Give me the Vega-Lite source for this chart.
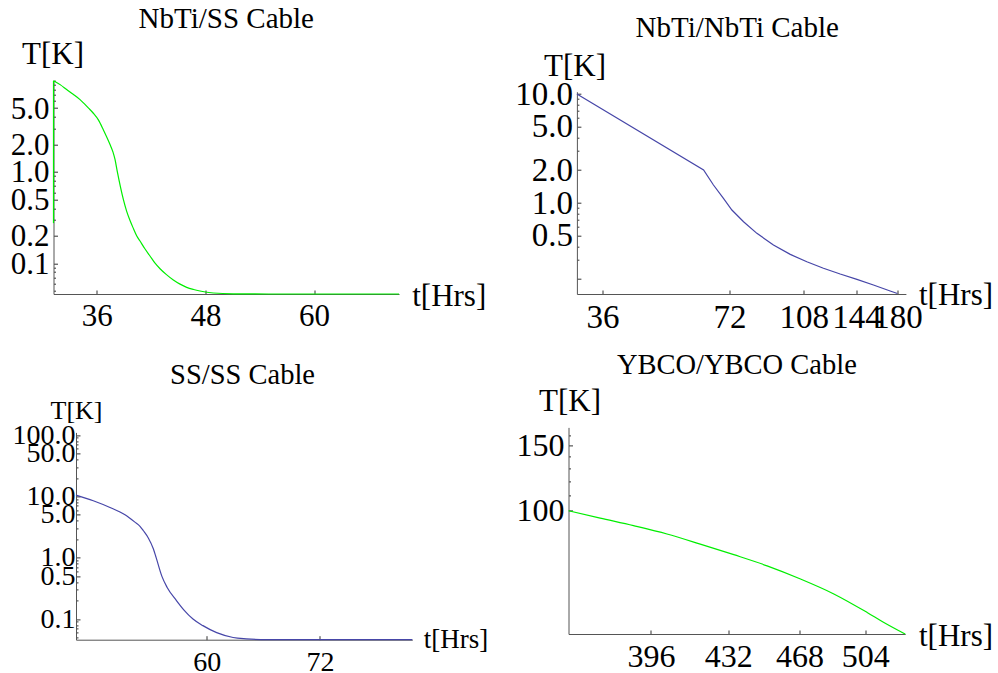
{
  "$schema": "https://vega.github.io/schema/vega-lite/v6.json",
  "autosize": {"type": "none"},
  "padding": {"left": 53.5, "top": 80.7, "right": 944.5, "bottom": 592.3},
  "background": "white",
  "columns": 2,
  "bounds": "flush",
  "spacing": {"row": 132.7, "column": 156},
  "config": {
    "view": {"stroke": null},
    "axis": {
      "titleFontWeight": "normal",
      "domainColor": "#555555", "tickColor": "#333333", "labelColor": "#000000", "titleColor": "#000000",
      "grid": false, "labelOverlap": false, "labelBound": false, "labelFlush": false, "titlePadding": 0,
      "domainWidth": 1, "tickWidth": 1
    },
    "title": {"font": "Liberation Serif, Times New Roman, serif", "fontWeight": "normal", "color": "#000000", "anchor": "middle", "frame": "group", "baseline": "alphabetic"}
  },
  "datasets": {
    "nbti_ss": [
      {"i": 0, "part": "drop", "hrs": 31.23, "temp": 0.275},
      {"i": 1, "part": "drop", "hrs": 31.23, "temp": 10.0},
      {"i": 1, "part": "curve", "hrs": 31.23, "temp": 10.0},
      {"i": 2, "part": "curve", "hrs": 32.0, "temp": 9.0},
      {"i": 3, "part": "curve", "hrs": 32.68, "temp": 8.0},
      {"i": 4, "part": "curve", "hrs": 33.4, "temp": 7.1},
      {"i": 5, "part": "curve", "hrs": 34.16, "temp": 6.2},
      {"i": 6, "part": "curve", "hrs": 35.1, "temp": 5.0},
      {"i": 7, "part": "curve", "hrs": 35.63, "temp": 4.4},
      {"i": 8, "part": "curve", "hrs": 36.2, "temp": 3.7},
      {"i": 9, "part": "curve", "hrs": 36.73, "temp": 2.9},
      {"i": 10, "part": "curve", "hrs": 37.47, "temp": 2.0},
      {"i": 11, "part": "curve", "hrs": 37.8, "temp": 1.65},
      {"i": 12, "part": "curve", "hrs": 38.02, "temp": 1.37},
      {"i": 13, "part": "curve", "hrs": 38.28, "temp": 1.0},
      {"i": 14, "part": "curve", "hrs": 38.94, "temp": 0.5},
      {"i": 15, "part": "curve", "hrs": 39.31, "temp": 0.37},
      {"i": 16, "part": "curve", "hrs": 39.7, "temp": 0.29},
      {"i": 17, "part": "curve", "hrs": 40.05, "temp": 0.24},
      {"i": 18, "part": "curve", "hrs": 40.41, "temp": 0.2},
      {"i": 19, "part": "curve", "hrs": 40.78, "temp": 0.175},
      {"i": 20, "part": "curve", "hrs": 41.3, "temp": 0.145},
      {"i": 21, "part": "curve", "hrs": 41.88, "temp": 0.12},
      {"i": 22, "part": "curve", "hrs": 42.44, "temp": 0.1},
      {"i": 23, "part": "curve", "hrs": 42.99, "temp": 0.087},
      {"i": 24, "part": "curve", "hrs": 43.7, "temp": 0.075},
      {"i": 25, "part": "curve", "hrs": 44.46, "temp": 0.0655},
      {"i": 26, "part": "curve", "hrs": 45.2, "temp": 0.059},
      {"i": 27, "part": "curve", "hrs": 45.93, "temp": 0.0544},
      {"i": 28, "part": "curve", "hrs": 46.7, "temp": 0.0515},
      {"i": 29, "part": "curve", "hrs": 47.4, "temp": 0.0496},
      {"i": 30, "part": "curve", "hrs": 48.88, "temp": 0.0472},
      {"i": 31, "part": "curve", "hrs": 51.08, "temp": 0.0462},
      {"i": 32, "part": "curve", "hrs": 55.0, "temp": 0.046},
      {"i": 33, "part": "curve", "hrs": 69.37, "temp": 0.046}
    ],
    "nbti_nbti": [
      {"i": 0, "hrs": 31.31, "temp": 10.0},
      {"i": 1, "hrs": 62.5, "temp": 2.01},
      {"i": 2, "hrs": 65.96, "temp": 1.463},
      {"i": 3, "hrs": 69.66, "temp": 1.104},
      {"i": 4, "hrs": 72.94, "temp": 0.863},
      {"i": 5, "hrs": 77.73, "temp": 0.674},
      {"i": 6, "hrs": 83.6, "temp": 0.527},
      {"i": 7, "hrs": 91.5, "temp": 0.412},
      {"i": 8, "hrs": 100.3, "temp": 0.338},
      {"i": 9, "hrs": 109.8, "temp": 0.289},
      {"i": 10, "hrs": 120.2, "temp": 0.252},
      {"i": 11, "hrs": 131.7, "temp": 0.223},
      {"i": 12, "hrs": 144.3, "temp": 0.1995},
      {"i": 13, "hrs": 157.9, "temp": 0.177},
      {"i": 14, "hrs": 173.0, "temp": 0.156},
      {"i": 15, "hrs": 180.0, "temp": 0.148}
    ],
    "ss_ss": [
      {"i": 0, "hrs": 46.16, "temp": 10.5},
      {"i": 1, "hrs": 47.99, "temp": 8.5},
      {"i": 2, "hrs": 49.76, "temp": 6.6},
      {"i": 3, "hrs": 51.35, "temp": 5.0},
      {"i": 4, "hrs": 52.4, "temp": 3.8},
      {"i": 5, "hrs": 52.94, "temp": 3.25},
      {"i": 6, "hrs": 53.3, "temp": 2.75},
      {"i": 7, "hrs": 53.82, "temp": 2.1},
      {"i": 8, "hrs": 54.35, "temp": 1.4},
      {"i": 9, "hrs": 54.65, "temp": 1.0},
      {"i": 10, "hrs": 55.25, "temp": 0.5},
      {"i": 11, "hrs": 55.8, "temp": 0.33},
      {"i": 12, "hrs": 56.8, "temp": 0.2},
      {"i": 13, "hrs": 57.6, "temp": 0.14},
      {"i": 14, "hrs": 58.55, "temp": 0.1},
      {"i": 15, "hrs": 59.6, "temp": 0.078},
      {"i": 16, "hrs": 61.06, "temp": 0.06},
      {"i": 17, "hrs": 62.8, "temp": 0.05},
      {"i": 18, "hrs": 64.2, "temp": 0.0475},
      {"i": 19, "hrs": 66.4, "temp": 0.046},
      {"i": 20, "hrs": 81.78, "temp": 0.046}
    ],
    "ybco_ybco": [
      {"i": 0, "hrs": 360.9, "temp": 100.0},
      {"i": 1, "hrs": 374.0, "temp": 95.5},
      {"i": 2, "hrs": 388.3, "temp": 91.1},
      {"i": 3, "hrs": 403.2, "temp": 86.5},
      {"i": 4, "hrs": 418.6, "temp": 81.2},
      {"i": 5, "hrs": 434.7, "temp": 76.0},
      {"i": 6, "hrs": 451.3, "temp": 70.9},
      {"i": 7, "hrs": 468.6, "temp": 65.3},
      {"i": 8, "hrs": 486.5, "temp": 59.5},
      {"i": 9, "hrs": 505.1, "temp": 53.0},
      {"i": 10, "hrs": 514.7, "temp": 49.8},
      {"i": 11, "hrs": 527.2, "temp": 46.33}
    ]
  },
  "concat": [
    {
      "width": 345.5, "height": 213.3,
      "title": {"text": "NbTi/SS Cable", "fontSize": 29, "offset": 4},
      "data": {"name": "nbti_ss"},
      "mark": {"type": "line", "color": "#00ee00", "strokeWidth": 1.2, "interpolate": "monotone"},
      "encoding": {
        "detail": {"field": "part", "type": "nominal"},
        "order": {"field": "i", "type": "quantitative"},
        "x": {"field": "hrs", "type": "quantitative",
          "scale": {"domain": [31.23, 69.37], "nice": false, "zero": false},
          "axis": {"values": [36, 48, 60], "format": "d", "tickSize": -4, "labelPadding": 11, "labelFontSize": 31,
            "labelFont": "Liberation Serif, Times New Roman, serif", "titleFont": "Liberation Serif, Times New Roman, serif",
            "title": "t[Hrs]", "titleFontSize": 31, "titleAlign": "left", "titleBaseline": "alphabetic", "titleX": 358.2, "titleY": 11}},
        "y": {"field": "temp", "type": "quantitative",
          "scale": {"type": "log", "domain": [0.046, 10], "nice": false},
          "axis": {"values": [0.05, 0.06, 0.07, 0.08, 0.09, 0.1, 0.2, 0.3, 0.4, 0.5, 0.6, 0.7, 0.8, 0.9, 1, 2, 3, 4, 5, 6, 7, 8, 9, 10],
            "format": ".1f",
            "labelExpr": "indexof([0.1,0.2,0.5,1,2,5], datum.value) >= 0 ? datum.label : ''",
            "tickSize": {"condition": {"test": "indexof([0.1,0.2,0.5,1,2,5], datum.value) >= 0", "value": -4}, "value": -2},
            "labelPadding": 8.5, "labelFontSize": 31, "labelOffset": 1,
            "labelFont": "Liberation Serif, Times New Roman, serif", "titleFont": "Liberation Serif, Times New Roman, serif",
            "title": "T[K]", "titleFontSize": 31, "titleAngle": 0, "titleAlign": "left", "titleBaseline": "alphabetic", "titleX": -32, "titleY": -17.4}}
      }
    },
    {
      "width": 337.4, "height": 213.3,
      "title": {"text": "NbTi/NbTi Cable", "fontSize": 29, "offset": 7.5},
      "data": {"name": "nbti_nbti"},
      "mark": {"type": "line", "color": "#4646a8", "strokeWidth": 1.2},
      "encoding": {
        "order": {"field": "i", "type": "quantitative"},
        "x": {"field": "hrs", "type": "quantitative",
          "scale": {"type": "log", "domain": [31.31, 188.5], "range": [8.4, 337.4], "nice": false},
          "axis": {"values": [36, 72, 108, 144, 180], "format": "d", "tickSize": -4, "labelPadding": 11, "labelFontSize": 33,
            "labelFont": "Liberation Serif, Times New Roman, serif", "titleFont": "Liberation Serif, Times New Roman, serif",
            "title": "t[Hrs]", "titleFontSize": 31, "titleAlign": "left", "titleBaseline": "alphabetic", "titleX": 350, "titleY": 10}},
        "y": {"field": "temp", "type": "quantitative",
          "scale": {"type": "log", "domain": [0.1463, 10.5], "range": [213.3, 11], "nice": false},
          "axis": {"offset": -8.4,
            "values": [0.2, 0.3, 0.4, 0.5, 0.6, 0.7, 0.8, 0.9, 1, 2, 3, 4, 5, 6, 7, 8, 9, 10],
            "format": ".1f",
            "labelExpr": "indexof([0.5,1,2,5,10], datum.value) >= 0 ? datum.label : ''",
            "tickSize": {"condition": {"test": "indexof([0.2,0.5,1,2,5,10], datum.value) >= 0", "value": -4}, "value": -2},
            "labelPadding": 8.5, "labelFontSize": 33,
            "labelFont": "Liberation Serif, Times New Roman, serif", "titleFont": "Liberation Serif, Times New Roman, serif",
            "title": "T[K]", "titleFontSize": 31, "titleAngle": 0, "titleAlign": "left", "titleBaseline": "alphabetic", "titleX": -33.4, "titleY": -5.7}}
      }
    },
    {
      "width": 358.8, "height": 212.3,
      "title": {"text": "SS/SS Cable", "fontSize": 28.5, "offset": 7.2, "dx": 9.6},
      "data": {"name": "ss_ss"},
      "mark": {"type": "line", "color": "#4646a8", "strokeWidth": 1.2, "interpolate": "monotone"},
      "encoding": {
        "order": {"field": "i", "type": "quantitative"},
        "x": {"field": "hrs", "type": "quantitative",
          "scale": {"domain": [46.16, 81.78], "range": [22.5, 358.8], "nice": false, "zero": false},
          "axis": {"values": [60, 72], "format": "d", "tickSize": -4, "labelPadding": 13, "labelFontSize": 28,
            "labelFont": "Liberation Serif, Times New Roman, serif", "titleFont": "Liberation Serif, Times New Roman, serif",
            "title": "t[Hrs]", "titleFontSize": 27, "titleAlign": "left", "titleBaseline": "alphabetic", "titleX": 369.8, "titleY": 7.7}},
        "y": {"field": "temp", "type": "quantitative",
          "scale": {"type": "log", "domain": [0.046, 110.4], "range": [212.3, 5], "nice": false},
          "axis": {"offset": -22.5,
            "values": [0.05, 0.06, 0.07, 0.08, 0.09, 0.1, 0.2, 0.3, 0.4, 0.5, 0.6, 0.7, 0.8, 0.9, 1, 2, 3, 4, 5, 6, 7, 8, 9, 10, 20, 30, 40, 50, 60, 70, 80, 90, 100],
            "format": ".1f",
            "labelExpr": "indexof([0.1,0.5,1,5,10,50,100], datum.value) >= 0 ? datum.label : ''",
            "tickSize": {"condition": {"test": "indexof([0.1,0.5,1,5,10,50,100], datum.value) >= 0", "value": -4}, "value": -2},
            "labelPadding": 5, "labelFontSize": 28,
            "labelFont": "Liberation Serif, Times New Roman, serif", "titleFont": "Liberation Serif, Times New Roman, serif",
            "title": "T[K]", "titleFontSize": 26, "titleAngle": 0, "titleAlign": "left", "titleBaseline": "alphabetic", "titleX": -26, "titleY": -9.4}}
      }
    },
    {
      "width": 336.7, "height": 206.6,
      "title": {"text": "YBCO/YBCO Cable", "fontSize": 28.5, "offset": 6.5},
      "data": {"name": "ybco_ybco"},
      "mark": {"type": "line", "color": "#00ee00", "strokeWidth": 1.2, "interpolate": "monotone"},
      "encoding": {
        "order": {"field": "i", "type": "quantitative"},
        "x": {"field": "hrs", "type": "quantitative",
          "scale": {"type": "log", "domain": [360.9, 527.2], "nice": false},
          "axis": {"values": [396, 432, 468, 504], "format": "d", "tickSize": -4, "labelPadding": 11, "labelFontSize": 32,
            "labelFont": "Liberation Serif, Times New Roman, serif", "titleFont": "Liberation Serif, Times New Roman, serif",
            "title": "t[Hrs]", "titleFontSize": 31, "titleAlign": "left", "titleBaseline": "alphabetic", "titleX": 350, "titleY": 11.7}},
        "y": {"field": "temp", "type": "quantitative",
          "scale": {"type": "log", "domain": [46.33, 168.2], "nice": false},
          "axis": {"values": [100, 110, 120, 130, 140, 150, 160],
            "format": "d",
            "labelExpr": "indexof([100,150], datum.value) >= 0 ? datum.label : ''",
            "tickSize": {"condition": {"test": "indexof([100,150], datum.value) >= 0", "value": -4}, "value": -2},
            "labelPadding": 8.5, "labelFontSize": 32,
            "labelFont": "Liberation Serif, Times New Roman, serif", "titleFont": "Liberation Serif, Times New Roman, serif",
            "title": "T[K]", "titleFontSize": 31, "titleAngle": 0, "titleAlign": "left", "titleBaseline": "alphabetic", "titleX": -30, "titleY": -16.7}}
      }
    }
  ]
}
